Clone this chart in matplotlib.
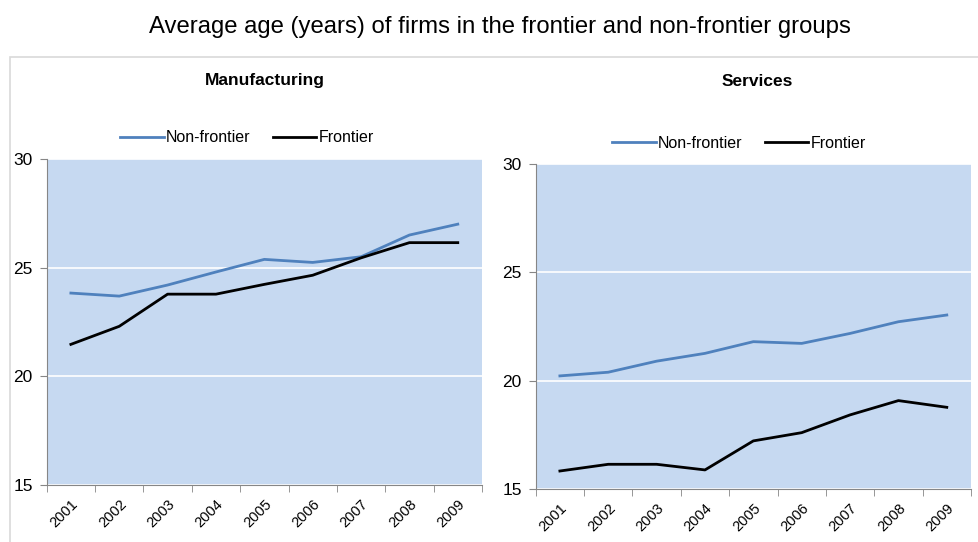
import matplotlib.pyplot as plt
from matplotlib.patches import Rectangle
from matplotlib.ticker import FixedLocator

plt.rcParams["font.family"] = ["Liberation Sans", "DejaVu Sans"]

years = ["2001", "2002", "2003", "2004", "2005", "2006", "2007", "2008", "2009"]

manuf_nonfrontier = [23.83, 23.69, 24.2, 24.8, 25.38, 25.24, 25.5, 26.5, 27.0]
manuf_frontier = [21.47, 22.3, 23.78, 23.78, 24.23, 24.65, 25.45, 26.15, 26.15]

serv_nonfrontier = [20.22, 20.39, 20.9, 21.26, 21.8, 21.72, 22.18, 22.72, 23.03]
serv_frontier = [15.83, 16.14, 16.14, 15.88, 17.22, 17.6, 18.42, 19.08, 18.77]

BLUE = "#4F81BD"
BG = "#C6D9F1"
AXIS = "#868686"

fig = plt.figure(figsize=(9.79, 5.42), dpi=100)

fig.text(0.511, 1 - 27 / 542, "Average age (years) of firms in the frontier and non-frontier groups",
         ha="center", va="center", fontsize=17.2)

# outer chart border
fig.patches.append(Rectangle((10 / 979, -0.05), 1.0, 1 - 57 / 542 + 0.05,
                             transform=fig.transFigure, fill=False,
                             edgecolor="#D9D9D9", linewidth=1.2))

panels = [
    ("Manufacturing", manuf_nonfrontier, manuf_frontier,
     [0.0477, 0.1052, 0.4446, 0.6015], 265, 138),
    ("Services", serv_nonfrontier, serv_frontier,
     [0.5472, 0.0978, 0.4446, 0.5996], 757, 143),
]

for title, nonfr, fr, rect, cx, ly in panels:

    ax = fig.add_axes(rect)

    ax.set_facecolor(BG)

    x = range(len(years))

    ax.plot(x, nonfr, color=BLUE, linewidth=2, label="Non-frontier")

    ax.plot(x, fr, color="black", linewidth=2, label="Frontier")

    ax.set_xlim(-0.5, len(years) - 0.5)
    ax.set_ylim(15, 30)

    ax.set_yticks([15, 20, 25, 30])
    ax.yaxis.grid(True, color="white", linewidth=1.2)
    ax.set_axisbelow(True)

    ax.set_xticks(list(x))
    ax.set_xticklabels(years, rotation=45, ha="right", rotation_mode="anchor",
                       fontsize=10.5)
    ax.xaxis.set_minor_locator(FixedLocator([i - 0.5 for i in range(len(years) + 1)]))
    ax.tick_params(axis="x", which="major", length=0, pad=9)
    ax.tick_params(axis="x", which="minor", length=5, color=AXIS)
    ax.tick_params(axis="y", length=5, color=AXIS, labelsize=12.5, pad=5)

    for side in ["top", "right"]:
        ax.spines[side].set_visible(False)
    for side in ["left", "bottom"]:
        ax.spines[side].set_color(AXIS)

    fig.text(cx / 979, 1 - 81 / 542, title, ha="center", va="center",
             fontsize=12.5, fontweight="bold")

    ax.legend(loc="center", bbox_to_anchor=((cx - 18) / 979, 1 - ly / 542),
              bbox_transform=fig.transFigure, ncol=2, frameon=False,
              fontsize=11.5, handlelength=2.7, handletextpad=0.15,
              columnspacing=1.4)

fig.savefig("out.png", dpi=100)
